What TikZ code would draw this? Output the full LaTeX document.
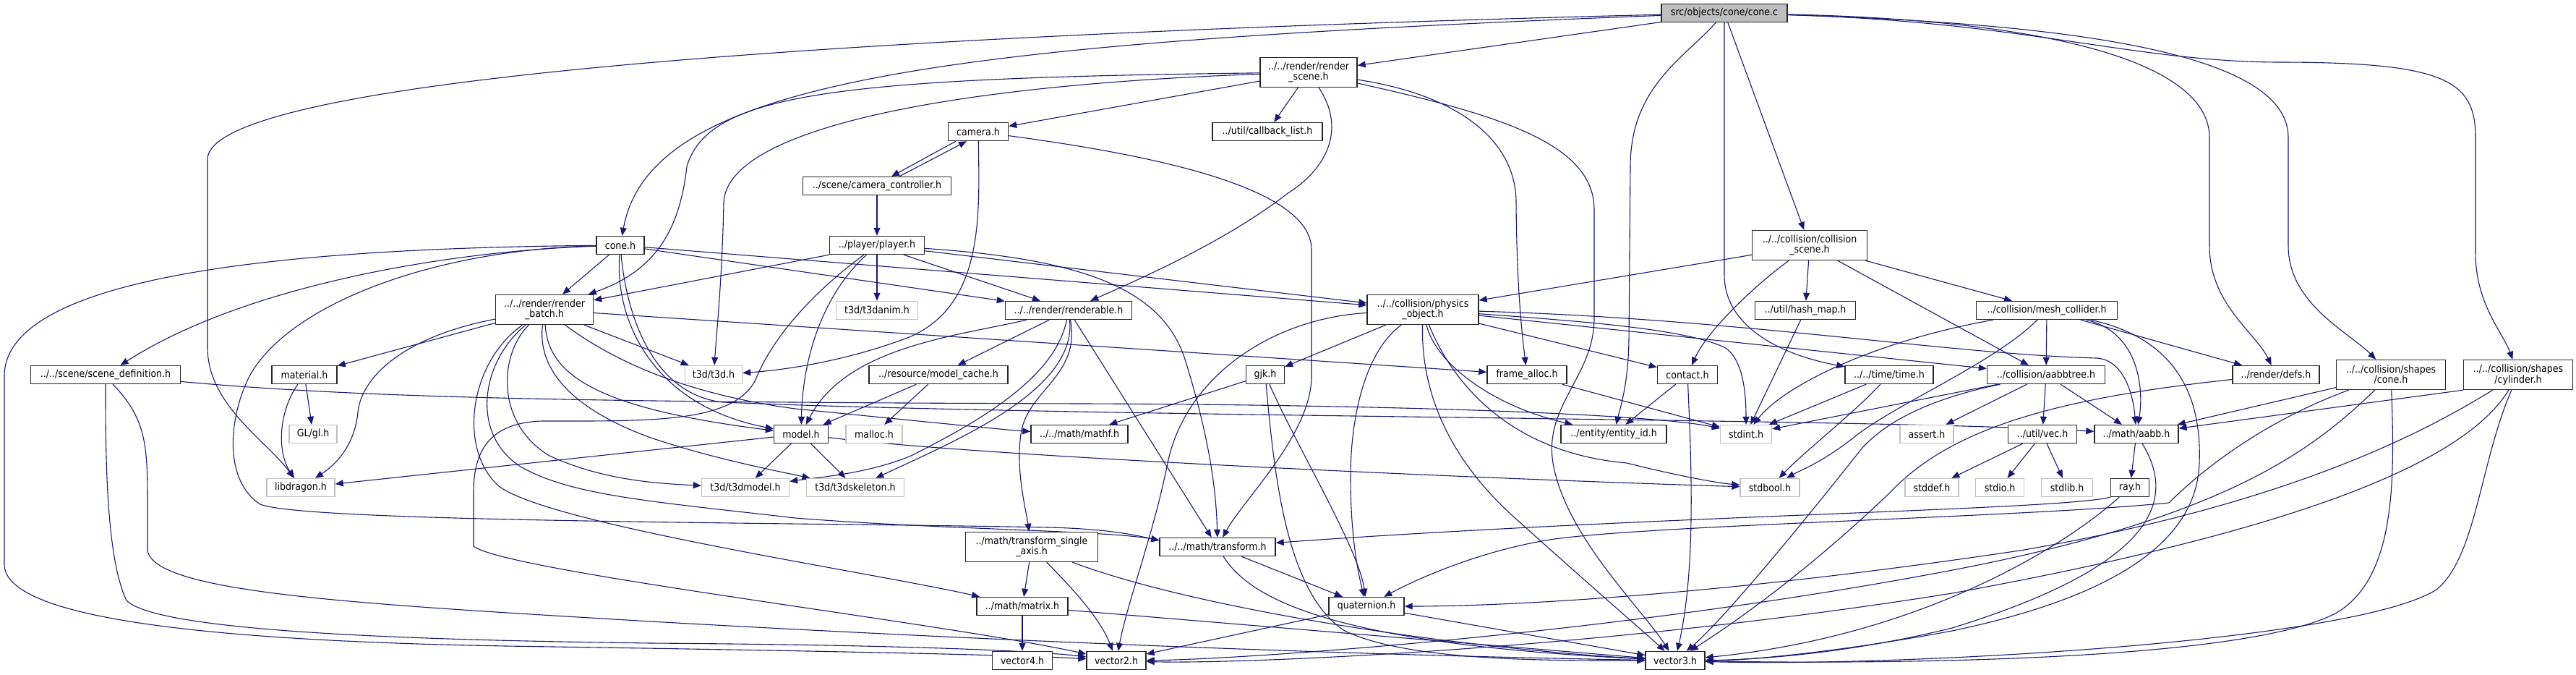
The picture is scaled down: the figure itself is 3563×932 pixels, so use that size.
\documentclass[tikz,border=0pt]{standalone}
\usepackage{fontspec}
\newfontfamily\dx{DejaVu Sans Condensed}
\usetikzlibrary{arrows.meta}
\definecolor{edg}{RGB}{25,25,112}
\definecolor{sysb}{RGB}{191,191,191}
\pgfdeclarelayer{back}
\pgfdeclarelayer{bg}
\pgfsetlayers{back,bg,main}
\tikzset{
  nd/.style={draw=black!85, line width=1.4pt, fill=white, inner sep=0pt, minimum height=25pt, align=center, font=\dx\fontsize{14}{14.5}\selectfont},
  sy/.style={nd, draw=sysb},
  tw/.style={minimum height=41pt},
  e/.style={draw=edg, line width=1.1pt, -{Triangle[length=11pt,width=9pt]}},
}
\begin{document}
\begin{tikzpicture}[x=1pt,y=-1pt]
\useasboundingbox (0,0) rectangle (3563,932);
\begin{pgfonlayer}{back}
\fill[white] (0,0) rectangle (3563,932);
\end{pgfonlayer}
% nodes
\node[nd, fill=sysb, minimum width=174pt] (conec) at (2385,18) {src/objects/cone/cone.c};
\node[nd, tw, minimum width=134pt] (rscene) at (1810,100) {../../render/render\\\_scene.h};
\node[nd, minimum width=83pt] (camera) at (1353,182) {camera.h};
\node[nd, minimum width=152pt] (cblist) at (1753,182) {../util/callback\_list.h};
\node[nd, minimum width=205pt] (camctl) at (1213,257) {../scene/camera\_controller.h};
\node[nd, minimum width=66pt] (coneh) at (858,339) {cone.h};
\node[nd, minimum width=131pt] (player) at (1213,339) {../player/player.h};
\node[nd, tw, minimum width=159pt] (colscene) at (2503,339) {../../collision/collision\\\_scene.h};
\node[nd, tw, minimum width=135pt] (rbatch) at (753,428) {../../render/render\\\_batch.h};
\node[sy, minimum width=113pt] (t3danim) at (1213,429) {t3d/t3danim.h};
\node[nd, minimum width=175pt] (renderable) at (1478,429) {../../render/renderable.h};
\node[nd, tw, minimum width=154pt] (physobj) at (1968,428) {../../collision/physics\\\_object.h};
\node[nd, minimum width=139pt] (hashmap) at (2497,429) {../util/hash\_map.h};
\node[nd, minimum width=195pt] (meshcol) at (2831,429) {../collision/mesh\_collider.h};
\node[nd, minimum width=207pt] (scenedef) at (146,518) {../../scene/scene\_definition.h};
\node[nd, minimum width=90pt] (material) at (421,518) {material.h};
\node[sy, minimum width=79pt] (t3d) at (987,518) {t3d/t3d.h};
\node[nd, minimum width=192pt] (modelcache) at (1298,518) {../resource/model\_cache.h};
\node[nd, minimum width=53pt] (gjk) at (1750,518) {gjk.h};
\node[nd, minimum width=110pt] (framealloc) at (2112,518) {frame\_alloc.h};
\node[nd, minimum width=83pt] (contact) at (2334,518) {contact.h};
\node[nd, minimum width=122pt] (time) at (2613,518) {../../time/time.h};
\node[nd, minimum width=163pt] (aabbtree) at (2830,518) {../collision/aabbtree.h};
\node[nd, minimum width=120pt] (defs) at (3148,518) {../render/defs.h};
\node[nd, tw, minimum width=151pt] (shcone) at (3307,518) {../../collision/shapes\\/cone.h};
\node[nd, tw, minimum width=151pt] (shcyl) at (3483,518) {../../collision/shapes\\/cylinder.h};
\node[sy, minimum width=66pt] (glh) at (433,600) {GL/gl.h};
\node[nd, minimum width=75pt] (model) at (1108,600) {model.h};
\node[sy, minimum width=78pt] (malloc) at (1209,600) {malloc.h};
\node[nd, minimum width=134pt] (mathf) at (1493,600) {../../math/mathf.h};
\node[nd, minimum width=146pt] (entityid) at (2232,600) {../entity/entity\_id.h};
\node[sy, minimum width=71pt] (stdint) at (2415,600) {stdint.h};
\node[sy, minimum width=74pt] (assert) at (2665,600) {assert.h};
\node[nd, minimum width=95pt] (vec) at (2825,600) {../util/vec.h};
\node[nd, minimum width=116pt] (aabb) at (2955,600) {../math/aabb.h};
\node[sy, minimum width=94pt] (libdragon) at (416,674) {libdragon.h};
\node[sy, minimum width=121pt] (t3dmodel) at (1031,674) {t3d/t3dmodel.h};
\node[sy, minimum width=135pt] (t3dskel) at (1183,674) {t3d/t3dskeleton.h};
\node[sy, minimum width=82pt] (stdbool) at (2448,674) {stdbool.h};
\node[sy, minimum width=74pt] (stddef) at (2672,674) {stddef.h};
\node[sy, minimum width=67pt] (stdio) at (2766,674) {stdio.h};
\node[sy, minimum width=71pt] (stdlib) at (2859,674) {stdlib.h};
\node[nd, minimum width=53pt] (ray) at (2946,674) {ray.h};
\node[nd, tw, minimum width=183pt] (tsingle) at (1427,756) {../math/transform\_single\\\_axis.h};
\node[nd, minimum width=160pt] (transform) at (1684,756) {../../math/transform.h};
\node[nd, minimum width=126pt] (matrix) at (1414,838) {../math/matrix.h};
\node[nd, minimum width=104pt] (quaternion) at (1890,838) {quaternion.h};
\node[nd, minimum width=83pt] (vector4) at (1414,913) {vector4.h};
\node[nd, minimum width=82pt] (vector2) at (1544,913) {vector2.h};
\node[nd, minimum width=82pt] (vector3) at (2317,913) {vector3.h};
\begin{pgfonlayer}{bg}
% cone.c
\draw[e] (conec) -- (rscene);
\draw[e] (conec) .. controls (1300,60) and (900,110) .. (coneh);
\draw[e] (conec) .. controls (1500,40) and (290,90) .. (287,220) -- (287,480) .. controls (287,560) and (370,610) .. (libdragon);
\draw[e] (conec) .. controls (2330,80) and (2255,120) .. (2255,230) -- (2253,470) .. controls (2252,530) and (2242,560) .. (entityid);
\draw[e] (conec.south) -- (2385,380) .. controls (2385,450) and (2460,490) .. (time);
\draw[e] (conec) -- (colscene);
\draw[e] (conec) .. controls (2850,28) and (3056,90) .. (3056,190) -- (3056,340) .. controls (3056,420) and (3120,460) .. (defs);
\draw[e] (conec) .. controls (2950,35) and (3165,90) .. (3165,190) -- (3165,340) .. controls (3165,420) and (3250,460) .. (shcone);
\draw[e] (conec) .. controls (2800,30) and (2950,85) .. (3150,86) .. controls (3380,86) and (3424,110) .. (3424,190) -- (3424,350) .. controls (3424,420) and (3462,460) .. (shcyl);
% render_scene
\draw[e] (rscene) -- (camera);
\draw[e] (rscene) -- (cblist);
\draw[e] (rscene) .. controls (1150,108) and (980,130) .. (950,230) .. controls (940,320) and (905,375) .. (rbatch);
\draw[e] (rscene) .. controls (1300,118) and (1005,180) .. (1001,280) .. controls (999,380) and (992,450) .. (t3d);
\draw[e] (rscene) .. controls (1860,175) and (1840,230) .. (1780,268) .. controls (1700,330) and (1590,380) .. (renderable);
\draw[e] (rscene) .. controls (2010,130) and (2097,190) .. (2097,280) .. controls (2098,400) and (2105,460) .. (framealloc);
\draw[e] (rscene) .. controls (2080,160) and (2205,200) .. (2205,290) -- (2205,440) .. controls (2205,520) and (2135,560) .. (2148,640) .. controls (2165,740) and (2270,840) .. (vector3);
% camera
\draw[e] ([xshift=-31pt]camera.south) -- ([xshift=20pt]camctl.north);
\draw[e] ([xshift=31pt]camctl.north) -- ([xshift=-16pt]camera.south);
\draw[e] (camera) .. controls (1355,300) and (1360,420) .. (1260,465) .. controls (1170,500) and (1080,512) .. (t3d);
\draw[e] (camera) .. controls (1600,215) and (1814,260) .. (1814,345) -- (1814,520) .. controls (1814,600) and (1720,690) .. (transform);
\draw[e] (camctl) -- (player);
% player
\draw[e] (player) -- (t3danim);
\draw[e] ([xshift=37pt]player.south) -- (renderable);
\draw[e] (player.south west) -- (rbatch);
\draw[e] (player) -- (physobj);
\draw[e] (player) .. controls (1500,358) and (1610,400) .. (1640,500) .. controls (1665,580) and (1682,660) .. (transform);
\draw[e] (player) .. controls (1135,410) and (1110,500) .. (model);
\draw[e] (player) .. controls (1150,385) and (1075,450) .. (1045,525) .. controls (1015,585) and (900,582) .. (750,582) .. controls (680,584) and (655,620) .. (655,680) -- (655,755) .. controls (700,790) and (1300,860) .. (vector2);
% cone.h
\draw[e] (coneh) -- (rbatch);
\draw[e] (coneh) -- (renderable);
\draw[e] (coneh) -- (physobj);
\draw[e] (coneh) .. controls (600,348) and (330,400) .. (scenedef);
\draw[e] (coneh) .. controls (400,343) and (6,380) .. (6,520) -- (6,780) .. controls (6,850) and (250,885) .. (700,893) .. controls (1100,899) and (1400,905) .. (vector2);
\draw[e] (coneh) .. controls (850,440) and (900,560) .. (model);
\draw[e] (coneh) .. controls (866,430) and (900,545) .. (1000,556) .. controls (1500,577) and (2600,578) .. (aabb);
\draw[e] (coneh) .. controls (600,345) and (400,420) .. (345,520) .. controls (315,580) and (310,665) .. (360,697) .. controls (420,722) and (1100,722) .. (1450,729) .. controls (1540,731) and (1580,742) .. ([yshift=-4pt]transform.north west);
% scene definition
\draw[e] (scenedef) .. controls (146,620) and (146,770) .. (175,830) .. controls (220,875) and (600,885) .. (900,889) .. controls (1200,891) and (1420,898) .. (vector2);
\draw[e] ([xshift=10pt]scenedef.south) .. controls (204,580) and (204,620) .. (204,700) -- (204,760) .. controls (210,820) and (500,835) .. (900,859) .. controls (1500,893) and (2000,908) .. (vector3);
\draw[e] (scenedef) .. controls (500,550) and (800,556) .. (1500,558) .. controls (2000,560) and (2300,575) .. (stdint);
% render_batch
\draw[e] (rbatch) -- (t3d);
\draw[e] (rbatch) -- (framealloc);
\draw[e] (rbatch) .. controls (850,500) and (950,545) .. (1100,565) .. controls (1300,585) and (1400,595) .. (mathf);
\draw[e] (rbatch) .. controls (758,520) and (830,565) .. (model);
\draw[e] (rbatch) .. controls (743,510) and (790,565) .. (900,605) .. controls (980,632) and (1060,648) .. (t3dskel);
\draw[e] (rbatch) .. controls (690,490) and (685,585) .. (760,630) .. controls (830,662) and (900,668) .. (t3dmodel);
\draw[e] (rbatch) .. controls (665,500) and (650,600) .. (720,645) .. controls (790,685) and (900,693) .. (1100,716) .. controls (1300,732) and (1530,733) .. ([yshift=-4pt]transform.north west);
\draw[e] (rbatch) .. controls (650,500) and (632,620) .. (690,672) .. controls (760,725) and (1200,790) .. (matrix);
\draw[e] (rbatch) -- (material);
\draw[e] (rbatch) .. controls (560,465) and (500,520) .. (495,570) .. controls (490,620) and (460,645) .. (libdragon);
% material, model, model cache
\draw[e] (material) -- (glh);
\draw[e] (material) .. controls (385,570) and (383,625) .. (libdragon);
\draw[e] (model) -- (libdragon);
\draw[e] (model) -- (t3dmodel);
\draw[e] (model) -- (t3dskel);
\draw[e] (model) .. controls (1350,630) and (2000,660) .. (stdbool);
\draw[e] (modelcache) -- (model);
\draw[e] (modelcache) -- (malloc);
% renderable
\draw[e] (renderable) .. controls (1320,465) and (1170,480) .. (model);
\draw[e] (renderable) -- (modelcache);
\draw[e] (renderable) .. controls (1460,520) and (1360,580) .. (1260,630) .. controls (1200,655) and (1130,660) .. (t3dmodel);
\draw[e] (renderable) .. controls (1490,540) and (1320,610) .. (t3dskel);
\draw[e] (renderable) .. controls (1495,520) and (1420,540) .. (1412,600) .. controls (1405,650) and (1418,700) .. (tsingle);
\draw[e] (renderable) -- (transform);
% physics object
\draw[e] (physobj) -- (gjk);
\draw[e] (physobj) .. controls (1760,440) and (1640,520) .. (1615,640) .. controls (1595,740) and (1560,830) .. (vector2);
\draw[e] (physobj) .. controls (1895,480) and (1868,560) .. (1868,660) .. controls (1868,740) and (1878,790) .. (quaternion);
\draw[e] (physobj) .. controls (1965,560) and (2020,650) .. (2100,720) .. controls (2200,810) and (2270,870) .. (vector3);
\draw[e] (physobj) .. controls (1985,500) and (2060,560) .. (entityid);
\draw[e] (physobj) .. controls (2005,520) and (2080,625) .. (2250,640) .. controls (2330,660) and (2380,668) .. (stdbool);
\draw[e] (physobj) -- (contact);
\draw[e] (physobj) .. controls (2200,445) and (2330,455) .. (2385,480) .. controls (2410,495) and (2415,540) .. (stdint);
\draw[e] (physobj) -- (aabbtree);
\draw[e] (physobj) .. controls (2400,440) and (2700,490) .. (2900,495) .. controls (2935,497) and (2950,540) .. (aabb);
% collision scene
\draw[e] (colscene) -- (physobj);
\draw[e] (colscene) -- (hashmap);
\draw[e] (colscene) .. controls (2420,400) and (2360,460) .. (contact);
\draw[e] (colscene) -- (aabbtree);
\draw[e] (colscene) -- (meshcol);
\draw[e] (hashmap) -- (stdint);
% mesh collider
\draw[e] (meshcol) .. controls (2600,470) and (2470,530) .. (stdint);
\draw[e] (meshcol) -- (aabbtree);
\draw[e] (meshcol) .. controls (2960,460) and (2965,540) .. (aabb);
\draw[e] (meshcol) -- (defs);
\draw[e] (meshcol) .. controls (2760,500) and (2630,555) .. (2570,600) .. controls (2520,640) and (2490,650) .. (stdbool);
\draw[e] (meshcol) .. controls (3020,470) and (3045,560) .. (3042,640) .. controls (3038,760) and (2900,830) .. (2700,872) .. controls (2550,900) and (2420,913) .. (vector3);
% aabbtree
\draw[e] (aabbtree) -- (stdint);
\draw[e] (aabbtree) .. controls (2700,545) and (2620,570) .. (2575,620) .. controls (2480,740) and (2380,860) .. (vector3);
\draw[e] (aabbtree) -- (assert);
\draw[e] (aabbtree) -- (vec);
\draw[e] (aabbtree) -- (aabb);
% time, contact, frame alloc
\draw[e] (time) -- (stdint);
\draw[e] (time) .. controls (2565,570) and (2495,625) .. (stdbool);
\draw[e] (contact) -- (entityid);
\draw[e] (contact) .. controls (2340,650) and (2345,790) .. (vector3);
\draw[e] (framealloc) -- (stdint);
% gjk
\draw[e] (gjk) -- (mathf);
\draw[e] (gjk) .. controls (1795,620) and (1880,760) .. (quaternion);
\draw[e] (gjk) .. controls (1762,650) and (1778,820) .. (1860,872) .. controls (1950,915) and (2150,913) .. (vector3);
% math
\draw[e] (tsingle) -- (matrix);
\draw[e] (tsingle) .. controls (1470,800) and (1520,850) .. (vector2);
\draw[e] (tsingle) .. controls (1650,840) and (2000,895) .. (vector3);
\draw[e] (matrix) -- (vector4);
\draw[e] (matrix) -- (vector3);
\draw[e] (transform) -- (quaternion);
\draw[e] (transform) .. controls (1730,830) and (1850,890) .. (vector3);
\draw[e] (quaternion) -- (vector2);
\draw[e] (quaternion) -- (vector3);
% vec
\draw[e] (vec) -- (stddef);
\draw[e] (vec) -- (stdio);
\draw[e] (vec) -- (stdlib);
% aabb, ray, defs
\draw[e] (aabb) -- (ray);
\draw[e] (aabb) .. controls (3010,690) and (2985,780) .. (2700,868) .. controls (2550,905) and (2420,912) .. (vector3);
\draw[e] (ray) .. controls (2850,760) and (2650,880) .. (vector3);
\draw[e] (ray.south west) .. controls (2850,705) and (2300,712) .. (transform);
\draw[e] (defs) .. controls (2850,550) and (2700,590) .. (2615,680) .. controls (2500,790) and (2400,860) .. (vector3);
% shapes
\draw[e] (shcone) -- (aabb);
\draw[e] (shcone) .. controls (3150,575) and (3060,635) .. (3000,695) .. controls (2800,715) and (2300,725) .. (2150,745) .. controls (2050,760) and (1960,800) .. (quaternion);
\draw[e] (shcone) .. controls (3200,620) and (3080,720) .. (2663,795) .. controls (2200,880) and (1700,912) .. (vector2);
\draw[e] (shcone) .. controls (3312,660) and (3315,800) .. (3230,848) .. controls (3100,915) and (2600,918) .. (vector3);
\draw[e] (shcyl.south west) -- (aabb);
\draw[e] (shcyl) .. controls (3380,580) and (3200,690) .. (2800,760) .. controls (2400,820) and (2100,838) .. (quaternion);
\draw[e] (shcyl) .. controls (3420,620) and (3250,720) .. (2700,820) .. controls (2200,900) and (1700,918) .. (vector2);
\draw[e] (shcyl) .. controls (3430,640) and (3425,770) .. (3370,815) .. controls (3250,890) and (2600,922) .. (vector3);
\end{pgfonlayer}
\end{tikzpicture}
\end{document}
